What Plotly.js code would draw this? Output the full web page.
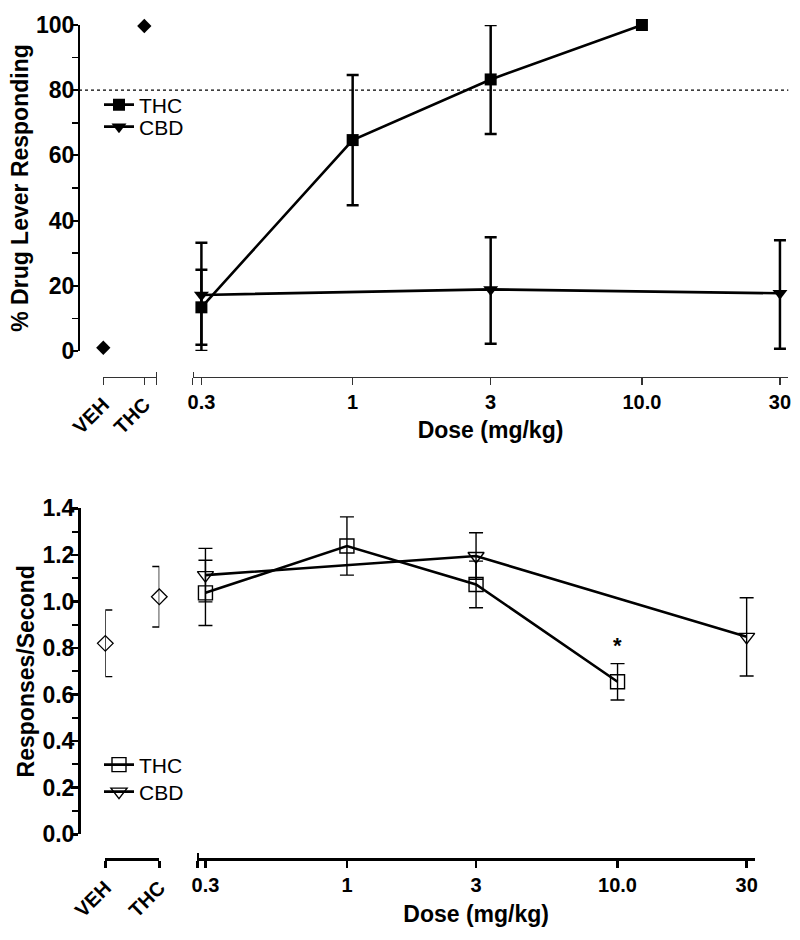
<!DOCTYPE html>
<html>
<head>
<meta charset="utf-8">
<script src="https://cdn.plot.ly/plotly-3.0.1.min.js"></script>
<style>html,body{margin:0;padding:0;background:#fff}#chart{width:800px;height:940px}</style>
</head>
<body>
<div id="chart"></div>
<script>
// ---------------- data ----------------
const controlLabels = ['VEH', 'THC'];
const doseTickVals = [0.3, 1, 3, 10, 30];
const doseTickText = ['0.3', '1', '3', '10.0', '30'];

// Panel A: % drug lever responding
const ctrlPct = [1.0, 99.7];
const thcDoses = [0.3, 1, 3, 10];
const thcPct = [13.4, 64.7, 83.3, 100];
const thcPctSem = [11.5, 20.0, 16.7, NaN];
const cbdDoses = [0.3, 3, 30];
const cbdPct = [17.2, 18.9, 17.7];
const cbdPctSemUp = [16.0, 16.0, 16.3];
const cbdPctSemDown = [17.2, 16.7, 17.0];
const criterionPct = 80;

// Panel B: response rate (responses/second)
const ctrlRate = [0.82, 1.02];
const ctrlRateSem = [0.143, 0.13];
const thcRate = [1.037, 1.238, 1.073, 0.655];
const thcRateSem = [0.14, 0.125, 0.10, 0.078];
const cbdRate = [1.113, 1.195, 0.848];
const cbdRateSem = [0.115, 0.10, 0.168];
const sigDose = 10;
const sigMarkY = 0.81;

// ---------------- layout helpers ----------------
const W = 800, H = 940;
const px = v => v / W;
const py = v => 1 - v / H;
const F = '"Liberation Sans", Arial, Helvetica, sans-serif';
const fb = s => ({family: F, size: s, color: '#000', weight: 700});
const ctrlIdx = controlLabels.map((_, i) => i);

const topLogRange = [-0.553, 1.506];
const botLogRange = [-0.553, 1.508];
const topCtrlEnd = 1.302;

const common = {showgrid: false, zeroline: false, showline: true, color: '#000', ticks: 'outside'};

const data = [
  // ---- Panel A ----
  {type: 'scatter', mode: 'markers', x: ctrlIdx, y: ctrlPct, xaxis: 'x', yaxis: 'y',
   marker: {symbol: 'diamond', size: 11, color: '#000'}, showlegend: false, cliponaxis: false, hoverinfo: 'skip'},
  {type: 'scatter', mode: 'lines+markers', name: 'THC', x: thcDoses, y: thcPct, xaxis: 'x2', yaxis: 'y',
   line: {color: '#000', width: 2.6}, marker: {symbol: 'square', size: 12, color: '#000'},
   error_y: {type: 'data', array: thcPctSem, color: '#000', thickness: 2.5, width: 6},
   cliponaxis: false, legend: 'legend'},
  {type: 'scatter', mode: 'lines+markers', name: 'CBD', x: cbdDoses, y: cbdPct, xaxis: 'x2', yaxis: 'y',
   line: {color: '#000', width: 2.6}, marker: {symbol: 'triangle-down', size: 13, color: '#000'},
   error_y: {type: 'data', symmetric: false, array: cbdPctSemUp, arrayminus: cbdPctSemDown, color: '#000', thickness: 2.5, width: 6},
   cliponaxis: false, legend: 'legend3'},
  // ---- Panel B ----
  {type: 'scatter', mode: 'markers', x: ctrlIdx, y: ctrlRate, xaxis: 'x3', yaxis: 'y2',
   marker: {symbol: 'diamond-open', size: 12, color: '#000', line: {width: 1.3}},
   error_y: {type: 'data', array: ctrlRateSem, color: '#000', thickness: 1.4, width: 7},
   showlegend: false, cliponaxis: false, hoverinfo: 'skip'},
  {type: 'scatter', mode: 'lines+markers', name: 'THC', x: thcDoses, y: thcRate, xaxis: 'x4', yaxis: 'y2',
   line: {color: '#000', width: 2.6}, marker: {symbol: 'square-open', size: 14, color: '#000', line: {width: 1.4}},
   error_y: {type: 'data', array: thcRateSem, color: '#000', thickness: 1.4, width: 7},
   cliponaxis: false, legend: 'legend2'},
  {type: 'scatter', mode: 'lines+markers', name: 'CBD', x: cbdDoses, y: cbdRate, xaxis: 'x4', yaxis: 'y2',
   line: {color: '#000', width: 2.6}, marker: {symbol: 'triangle-down-open', size: 14, color: '#000', line: {width: 1.4}},
   error_y: {type: 'data', array: cbdRateSem, color: '#000', thickness: 1.4, width: 7},
   cliponaxis: false, legend: 'legend4'}
];

const legendBase = {x: px(99), xanchor: 'left', yanchor: 'middle', bgcolor: 'rgba(0,0,0,0)',
                    font: {family: F, size: 21, color: '#000'}, tracegroupgap: 0, itemclick: false};

const layout = {
  width: W, height: H,
  margin: {l: 0, r: 0, t: 0, b: 0},
  paper_bgcolor: '#fff', plot_bgcolor: 'rgba(0,0,0,0)',
  font: {family: F, color: '#000'},
  // Panel A axes
  yaxis: Object.assign({}, common, {
    domain: [py(351), py(25)], range: [0, 100], anchor: 'free', position: px(79),
    linewidth: 2, tickwidth: 2, ticklen: 7, ticklabelstandoff: -8,
    tickmode: 'array', tickvals: [0, 20, 40, 60, 80, 100],
    minor: {tickmode: 'linear', tick0: 0, dtick: 10, ticks: 'outside', ticklen: 6, tickwidth: 1.5, tickcolor: '#000'},
    tickfont: fb(23),
    title: {text: '% Drug Lever Responding', font: fb(23), standoff: 0}
  }),
  xaxis: Object.assign({}, common, {
    domain: [px(103.3), px(156.7)], range: [0, topCtrlEnd], anchor: 'free', position: py(376.5),
    linewidth: 1.5, linecolor: '#333', tickwidth: 1.5, tickcolor: '#333', ticklen: 7,
    tickmode: 'array', tickvals: ctrlIdx.concat([topCtrlEnd]), ticktext: controlLabels.concat(['']),
    minor: {tickmode: 'array', tickvals: [topCtrlEnd - 0.002], ticks: 'inside', ticklen: 5, tickwidth: 1.5, tickcolor: '#333'},
    tickangle: -45, tickfont: fb(20)
  }),
  xaxis2: Object.assign({}, common, {
    type: 'log', domain: [px(192.7), px(788.3)], range: topLogRange, anchor: 'free', position: py(376.5),
    linewidth: 1.5, linecolor: '#333', tickwidth: 1.5, tickcolor: '#333', ticklen: 7,
    tickmode: 'array', tickvals: [Math.pow(10, topLogRange[0])].concat(doseTickVals), ticktext: [''].concat(doseTickText),
    minor: {tickmode: 'array', tickvals: [Math.pow(10, topLogRange[0] + 0.002)], ticks: 'inside', ticklen: 5, tickwidth: 1.5, tickcolor: '#333'},
    tickangle: 0, tickfont: fb(20),
    title: {text: 'Dose (mg/kg)', font: fb(23), standoff: 10}
  }),
  // Panel B axes
  yaxis2: Object.assign({}, common, {
    domain: [py(834.3), py(508.3)], range: [0, 1.4], anchor: 'free', position: px(79),
    linewidth: 2.8, tickwidth: 2.5, ticklen: 7, ticklabelstandoff: -8,
    tickmode: 'array', tickvals: [0, 0.2, 0.4, 0.6, 0.8, 1.0, 1.2, 1.4], tickformat: '.1f',
    minor: {tickmode: 'linear', tick0: 0, dtick: 0.1, ticks: 'outside', ticklen: 6, tickwidth: 2, tickcolor: '#000'},
    tickfont: fb(23),
    title: {text: 'Responses/Second', font: fb(23), standoff: 0}
  }),
  xaxis3: Object.assign({}, common, {
    domain: [px(105.3), px(159.3)], range: [0, 1], anchor: 'free', position: py(859.3),
    linewidth: 3, tickwidth: 2.5, ticklen: 7,
    tickmode: 'array', tickvals: ctrlIdx, ticktext: controlLabels,
    tickangle: -45, tickfont: fb(20)
  }),
  xaxis4: Object.assign({}, common, {
    type: 'log', domain: [px(197.3), px(755)], range: botLogRange, anchor: 'free', position: py(859.3),
    linewidth: 3, tickwidth: 2.5, ticklen: 7,
    tickmode: 'array', tickvals: [Math.pow(10, botLogRange[0])].concat(doseTickVals), ticktext: [''].concat(doseTickText),
    minor: {tickmode: 'array', tickvals: [Math.pow(10, botLogRange[0] + 0.002)], ticks: 'inside', ticklen: 5, tickwidth: 2.5, tickcolor: '#000'},
    tickangle: 0, tickfont: fb(20),
    title: {text: 'Dose (mg/kg)', font: fb(23), standoff: 10}
  }),
  legend: Object.assign({}, legendBase, {y: py(105)}),
  legend3: Object.assign({}, legendBase, {y: py(127)}),
  legend2: Object.assign({}, legendBase, {y: py(765)}),
  legend4: Object.assign({}, legendBase, {y: py(792)}),
  shapes: [
    {type: 'line', xref: 'paper', yref: 'y', x0: px(79), x1: px(788.3), y0: criterionPct, y1: criterionPct,
     line: {color: '#000', width: 1.2, dash: 'dot'}}
  ],
  annotations: [
    {xref: 'x4', yref: 'y2', x: Math.log10(sigDose), y: sigMarkY, text: '*', showarrow: false,
     font: fb(22), xanchor: 'center', yanchor: 'middle'}
  ]
};

Plotly.newPlot('chart', data, layout, {staticPlot: true, displayModeBar: false});
</script>
</body>
</html>
